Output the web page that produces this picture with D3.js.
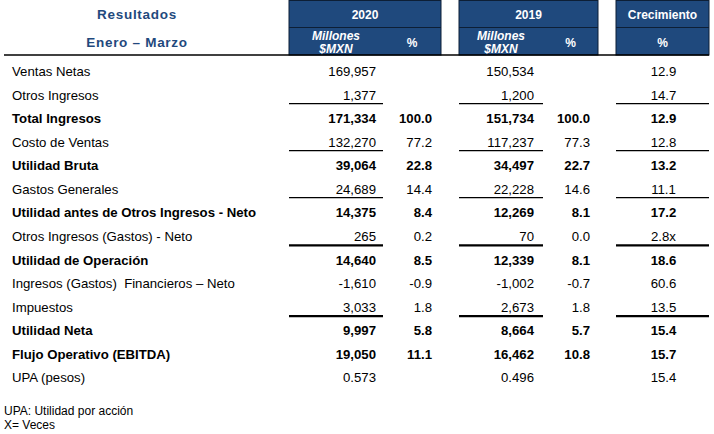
<!DOCTYPE html>
<html><head><meta charset="utf-8">
<script src="https://cdn.jsdelivr.net/npm/d3@7"></script>
<style>html,body{margin:0;padding:0;background:#fff;}svg{display:block;font-family:"Liberation Sans",Arial,sans-serif;}text{white-space:pre;}</style>
</head><body>
<svg id="c" width="714" height="434"></svg>
<script>
// ---- data ----
const labels = ["Ventas Netas","Otros Ingresos","Total Ingresos","Costo de Ventas","Utilidad Bruta","Gastos Generales","Utilidad antes de Otros Ingresos - Neto","Otros Ingresos (Gastos) - Neto","Utilidad de Operación","Ingresos (Gastos)  Financieros – Neto","Impuestos","Utilidad Neta","Flujo Operativo (EBITDA)","UPA (pesos)"];
const rowKind = ["item","item","total","item","total","item","total","item","total","item","item","total","total","item"];
const mxn2020 = [169957,1377,171334,132270,39064,24689,14375,265,14640,-1610,3033,9997,19050,0.573];
const pct2020 = [null,null,100.0,77.2,22.8,14.4,8.4,0.2,8.5,-0.9,1.8,5.8,11.1,null];
const mxn2019 = [150534,1200,151734,117237,34497,22228,12269,70,12339,-1002,2673,8664,16462,0.496];
const pct2019 = [null,null,100.0,77.3,22.7,14.6,8.1,0.0,8.1,-0.7,1.8,5.7,10.8,null];
const growth  = [12.9,14.7,12.9,12.8,13.2,11.1,17.2,2.8,18.6,60.6,13.5,15.4,15.7,15.4];
const growthUnit = ["","","","","","","","x","","","","","",""];
const perShareRows = [13];
const thinRuleAfter = [1,3,5];
const thickRuleAfter = [7,10];
const headerYears = ["2020","2019"];
const headerGrowth = "Crecimiento";
const headerTitle = ["Resultados","Enero – Marzo"];
const footnotes = ["UPA: Utilidad por acción","X= Veces"];

// ---- layout ----
const svg = d3.select("#c");
const navy = "#1F497D";
const loc = d3.formatLocale({decimal:".",thousands:",",grouping:[3],currency:["$",""],minus:"-"});
const fInt = loc.format(","), fPct = loc.format(".1f"), fEps = loc.format(".3f");

const y = d3.scaleLinear().domain([0, labels.length-1]).range([71.5, 377.5]);
const rows = labels.map((l,i)=>({i,l,kind:rowKind[i]}));

// header boxes
const boxes = [
  {x0:289, x1:441, split:383, top:headerYears[0], sub:["Millones","$MXN"]},
  {x0:459, x1:598, split:543, top:headerYears[1], sub:["Millones","$MXN"]},
  {x0:616, x1:709, split:null, top:headerGrowth, sub:null}
];
const hb = svg.append("g");
boxes.forEach(b=>{
  hb.append("rect").attr("x",b.x0).attr("y",0.5).attr("width",b.x1-b.x0).attr("height",54.5)
    .attr("fill",navy).attr("stroke","#0d1f36").attr("stroke-width",1);
  hb.append("line").attr("x1",b.x0).attr("x2",b.x1).attr("y1",27.5).attr("y2",27.5)
    .attr("stroke","#0d1f36").attr("stroke-width",1);
  hb.append("text").attr("x",(b.x0+b.x1)/2).attr("y",18.5).attr("text-anchor","middle")
    .attr("fill","#fff").attr("font-weight","bold").attr("font-size",12).text(b.top);
  if (b.sub){
    const cx=(b.x0+b.split)/2;
    b.sub.forEach((s,k)=>hb.append("text").attr("x",cx).attr("y",39.5+k*13.5).attr("text-anchor","middle")
      .attr("fill","#fff").attr("font-weight","bold").attr("font-style","italic").attr("font-size",12).text(s));
    hb.append("text").attr("x",(b.split+b.x1)/2).attr("y",46.5).attr("text-anchor","middle")
      .attr("fill","#fff").attr("font-weight","bold").attr("font-size",12).text("%");
  } else {
    hb.append("text").attr("x",(b.x0+b.x1)/2).attr("y",46.5).attr("text-anchor","middle")
      .attr("fill","#fff").attr("font-weight","bold").attr("font-size",12).text("%");
  }
});
headerTitle.forEach((t,k)=>svg.append("text").attr("x",137).attr("y",18.5+k*28).attr("text-anchor","middle")
  .attr("fill",navy).attr("font-weight","bold").attr("font-size",13.5).attr("letter-spacing","0.7px").text(t));
svg.append("line").attr("x1",4).attr("x2",709).attr("y1",55).attr("y2",55).attr("stroke","#000").attr("stroke-width",1.3);

// rows
const g = svg.append("g").attr("font-size",13.2).attr("fill","#000");
const row = g.selectAll("g.row").data(rows).join("g").attr("class","row")
  .attr("transform",d=>`translate(0,${y(d.i)+4.7})`)
  .attr("font-weight",d=>d.kind==="total"?"bold":"normal");
row.append("text").attr("x",12).text(d=>d.l);
const fmtM = (v,i)=> perShareRows.includes(i)? fEps(v) : fInt(v);
row.append("text").attr("x",376).attr("text-anchor","end").text(d=>fmtM(mxn2020[d.i],d.i));
row.append("text").attr("x",432).attr("text-anchor","end").text(d=>pct2020[d.i]==null?"":fPct(pct2020[d.i]));
row.append("text").attr("x",534).attr("text-anchor","end").text(d=>fmtM(mxn2019[d.i],d.i));
row.append("text").attr("x",590).attr("text-anchor","end").text(d=>pct2019[d.i]==null?"":fPct(pct2019[d.i]));
row.append("text").attr("x",663.5).attr("text-anchor","middle").text(d=>fPct(growth[d.i])+growthUnit[d.i]);

// rules
const spans = [[289,383],[459,543],[616,709]];
function rules(list, off, w){
  list.forEach(i=>spans.forEach(s=>svg.append("line").attr("x1",s[0]).attr("x2",s[1])
    .attr("y1",y(i)+off).attr("y2",y(i)+off).attr("stroke","#000").attr("stroke-width",w)));
}
rules(thinRuleAfter, 8.5, 1.2);
rules(thickRuleAfter, 9.2, 2.2);

// footnotes
footnotes.forEach((t,k)=>svg.append("text").attr("x",4).attr("y",414.5+k*14).attr("font-size",12).attr("fill","#000").text(t));
</script>
</body></html>
